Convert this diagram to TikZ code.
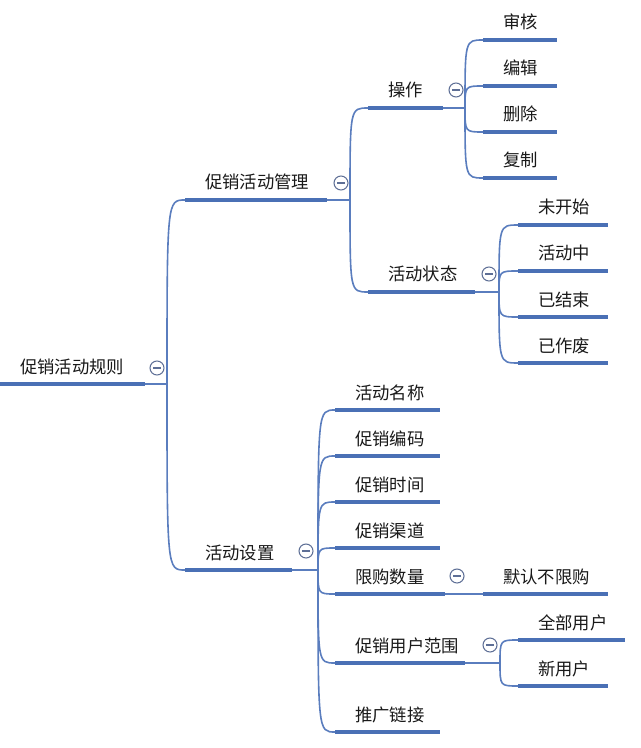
\documentclass[tikz,border=0pt]{standalone}
\usepackage{fontspec}
\newfontfamily\cjk{Noto Sans CJK SC}
\definecolor{ublue}{HTML}{4A70B5}
\definecolor{cblue}{HTML}{5A7DBE}
\definecolor{cgray}{HTML}{5E6F96}
\tikzset{
  uline/.style={ublue, line width=3pt},
  conn/.style={cblue, line width=1.2pt},
  lbl/.style={font=\cjk\fontsize{13}{15}\selectfont, inner sep=0pt, text=black!90},
  coll/.style={circle, draw=cgray, line width=0.8pt, minimum size=10.5pt, inner sep=0pt, fill=white,
    path picture={\draw[cgray, line width=0.8pt] ([xshift=-3pt]path picture bounding box.center) -- ([xshift=3pt]path picture bounding box.center);}}
}
\newcommand\topic[5]{%
  \coordinate (#1s) at (#2,#4);
  \coordinate (#1e) at (#3,#4);
  \node[lbl, anchor=base west] (#1) at (#2+20,#4-11) {#5};
}
\newcommand\uln[1]{\draw[uline] (#1s) -- (#1e);}
\newcommand\conn[2]{\draw[conn] (#1) .. controls (#1 |- #2s) .. (#2s);}
\begin{document}
\begin{tikzpicture}[x=0.75pt, y=-0.75pt]
\useasboundingbox[fill=white] (0,0) rectangle (640,748);
% junctions
\coordinate (Rj) at (167,384);
\coordinate (Aj) at (350,200);
\coordinate (A1j) at (465,108);
\coordinate (A2j) at (499,292);
\coordinate (Bj) at (318,570);
\coordinate (B6j) at (500,663);
% topics
\topic{R}{0}{145}{384}{促销活动规则}
\topic{A}{185}{327}{200}{促销活动管理}
\topic{B}{185}{292}{570}{活动设置}
\topic{A1}{368}{443}{108}{操作}
\topic{A2}{368}{475}{292}{活动状态}
\topic{A1a}{483}{557}{40}{审核}
\topic{A1b}{483}{557}{86}{编辑}
\topic{A1c}{483}{557}{132}{删除}
\topic{A1d}{483}{557}{178}{复制}
\topic{A2a}{518}{608}{225}{未开始}
\topic{A2b}{518}{608}{271}{活动中}
\topic{A2c}{518}{608}{317}{已结束}
\topic{A2d}{518}{608}{363}{已作废}
\topic{B1}{335}{440}{410}{活动名称}
\topic{B2}{335}{440}{456}{促销编码}
\topic{B3}{335}{440}{502}{促销时间}
\topic{B4}{335}{440}{548}{促销渠道}
\topic{B5}{335}{445}{594}{限购数量}
\topic{B6}{335}{465}{663}{促销用户范围}
\topic{B7}{335}{440}{732}{推广链接}
\topic{B5a}{483}{608}{594}{默认不限购}
\topic{B6a}{518}{625}{640}{全部用户}
\topic{B6b}{518}{608}{686}{新用户}
% connectors
\conn{Rj}{A}\conn{Rj}{B}
\conn{Aj}{A1}\conn{Aj}{A2}
\conn{A1j}{A1a}\conn{A1j}{A1b}\conn{A1j}{A1c}\conn{A1j}{A1d}
\conn{A2j}{A2a}\conn{A2j}{A2b}\conn{A2j}{A2c}\conn{A2j}{A2d}
\conn{Bj}{B1}\conn{Bj}{B2}\conn{Bj}{B3}\conn{Bj}{B4}\conn{Bj}{B5}\conn{Bj}{B6}\conn{Bj}{B7}
\conn{B6j}{B6a}\conn{B6j}{B6b}
% stems
\draw[conn] (Re) -- (Rj);
\draw[conn] (Ae) -- (Aj);
\draw[conn] (A1e) -- (A1j);
\draw[conn] (A2e) -- (A2j);
\draw[conn] (Be) -- (Bj);
\draw[conn] (B5e) -- (B5as);
\draw[conn] (B6e) -- (B6j);
% underlines
\uln{R}\uln{A}\uln{B}\uln{A1}\uln{A2}
\uln{A1a}\uln{A1b}\uln{A1c}\uln{A1d}
\uln{A2a}\uln{A2b}\uln{A2c}\uln{A2d}
\uln{B1}\uln{B2}\uln{B3}\uln{B4}\uln{B5}\uln{B6}\uln{B7}
\uln{B5a}\uln{B6a}\uln{B6b}
% collapse markers
\node[coll] (Rm) at (157,368) {};
\node[coll] (Am) at (341,183) {};
\node[coll] (A1m) at (456,90) {};
\node[coll] (A2m) at (489,274) {};
\node[coll] (Bm) at (306,551) {};
\node[coll] (B5m) at (457,576) {};
\node[coll] (B6m) at (490,645) {};
\end{tikzpicture}
\end{document}
